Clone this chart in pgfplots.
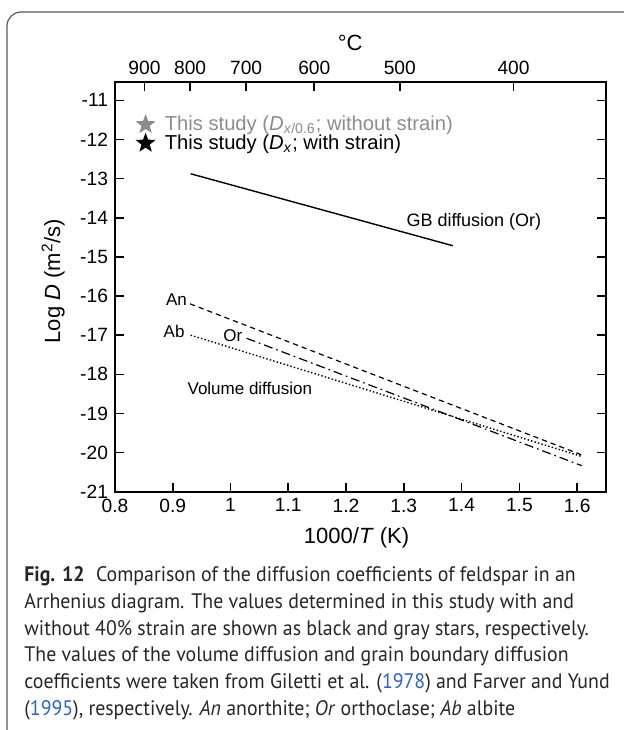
\documentclass[border=0pt]{standalone}
\usepackage{pgfplots}
\pgfplotsset{compat=1.18}
\usepackage{fontspec}
\setmainfont{Liberation Sans}
\newfontfamily\capfont[FakeStretch=0.945]{PT Sans}
\usetikzlibrary{shapes.geometric}
\definecolor{linkblue}{RGB}{40,100,200}
\definecolor{framegray}{RGB}{90,90,90}
\definecolor{stargray}{RGB}{140,140,140}

\begin{document}
\begin{tikzpicture}
\useasboundingbox (0,0) rectangle (312pt,365pt);
\clip (0,0) rectangle (312pt,365pt);
\draw[framegray, line width=0.6pt, rounded corners=7pt] (3.5pt,-20pt) rectangle (340pt,359pt);

% main axis: log D against 1000/T
\begin{axis}[
    at={(57.5pt,119.15pt)}, anchor=south west,
    scale only axis, width=245.5pt, height=204.85pt,
    xmin=0.8, xmax=1.65, ymin=-21, ymax=-10.53,
    xtick={0.8,0.9,1,1.1,1.2,1.3,1.4,1.5,1.6},
    ytick={-21,-20,-19,-18,-17,-16,-15,-14,-13,-12,-11},
    xtick pos=bottom, ytick pos=both,
    tick align=inside, major tick length=4.5pt,
    axis line style={line width=0.9pt},
    every tick/.style={black, line width=0.8pt},
    ticklabel style={font=\fontsize{9.6}{10}\selectfont},
    /pgf/number format/assume math mode=true,
    xlabel={1000/\textit{T} (K)},
    xlabel style={at={(rel axis cs:0.492,-0.113)}, anchor=center, font=\fontsize{11}{12}\selectfont},
    ylabel={Log \textit{D} (m\textsuperscript{2}/s)},
    ylabel style={at={(rel axis cs:-0.126,0.514)}, anchor=center, rotate=0, font=\fontsize{11}{12}\selectfont},
    legend style={draw=none, fill=none, at={(axis cs:0.835,-11.28)}, anchor=north west,
        font=\fontsize{10.1}{12}\selectfont, row sep=-3.5pt, inner sep=0pt},
    legend cell align=left,
]
\addlegendimage{legend image code/.code={\node[star, star points=5, star point ratio=2.4, fill=stargray, inner sep=0pt, minimum size=10.5pt] at (0.1cm,0) {};}}
\addlegendentry{\hspace{2.6pt}\textcolor{stargray}{This study (\textit{D}\textsubscript{\textit{x}/0.6}; without strain)}}
\addlegendimage{legend image code/.code={\node[star, star points=5, star point ratio=2.4, fill=black, inner sep=0pt, minimum size=10.5pt] at (0.1cm,0) {};}}
\addlegendentry{\hspace{2.6pt}This study (\textit{D}\textsubscript{\textit{x}}; with strain)}

% GB diffusion (Or)
\addplot[forget plot, black, line width=0.7pt] coordinates {(0.931,-12.875) (1.385,-14.715)};
% An
\addplot[forget plot, black, line width=0.6pt, dash pattern=on 2.6pt off 2pt] coordinates {(0.930,-16.20) (1.608,-20.06)};
% Or
\addplot[forget plot, black, line width=0.6pt, dash pattern=on 4.5pt off 2pt on 0.8pt off 2pt] coordinates {(1.028,-17.08) (1.608,-20.335)};
% Ab
\addplot[forget plot, black, line width=0.7pt, dash pattern=on 0.7pt off 1.1pt] coordinates {(0.931,-17.0) (1.608,-20.10)};

\node[anchor=east, inner sep=0pt, font=\fontsize{8.5}{10}\selectfont] at (axis cs:0.925,-16.10) {An};
\node[anchor=east, inner sep=0pt, font=\fontsize{8.5}{10}\selectfont] at (axis cs:0.921,-16.91) {Ab};
\node[anchor=west, inner sep=0pt, font=\fontsize{8.5}{10}\selectfont] at (axis cs:0.987,-17.01) {Or};
\node[anchor=west, inner sep=0pt, font=\fontsize{8.5}{10}\selectfont] at (axis cs:0.925,-18.36) {Volume diffusion};
\node[anchor=west, inner sep=0pt, font=\fontsize{9}{10}\selectfont] at (axis cs:1.304,-14.10) {GB diffusion (Or)};
\end{axis}

% top axis in degrees Celsius
\begin{axis}[
    at={(57.5pt,119.15pt)}, anchor=south west,
    scale only axis, width=245.5pt, height=204.85pt,
    xmin=0.8, xmax=1.65, ymin=0, ymax=1,
    axis x line*=top, axis y line=none,
    xtick={0.851,0.930,1.027,1.145,1.293,1.490},
    xticklabels={900,800,700,600,500,400},
    tick align=inside, major tick length=4.5pt,
    axis line style={line width=0.9pt},
    every tick/.style={black, line width=0.8pt},
    ticklabel style={font=\fontsize{9.6}{10}\selectfont},
    xlabel={°C},
    xlabel style={at={(rel axis cs:0.479,1.096)}, anchor=center, font=\fontsize{11}{12}\selectfont},
]
\end{axis}

% caption
\begin{scope}[every node/.style={anchor=base west, inner sep=0pt, text=black!85, font=\capfont\fontsize{10.5}{13}\selectfont}]
\node at (12pt,74.15pt) {\textbf{Fig. 12}\hspace{0.55em}Comparison of the diffusion coefficients of feldspar in an};
\node at (12pt,60.8pt) {Arrhenius diagram. The values determined in this study with and};
\node at (12pt,47.5pt) {without 40\% strain are shown as black and gray stars, respectively.};
\node at (12pt,34.15pt) {The values of the volume diffusion and grain boundary diffusion};
\node at (12pt,20.85pt) {coefficients were taken from Giletti et al. (\textcolor{linkblue}{1978}) and Farver and Yund};
\node at (12pt,7.5pt) {(\textcolor{linkblue}{1995}), respectively. \textit{An} anorthite; \textit{Or} orthoclase; \textit{Ab} albite};
\end{scope}
\end{tikzpicture}
\end{document}
